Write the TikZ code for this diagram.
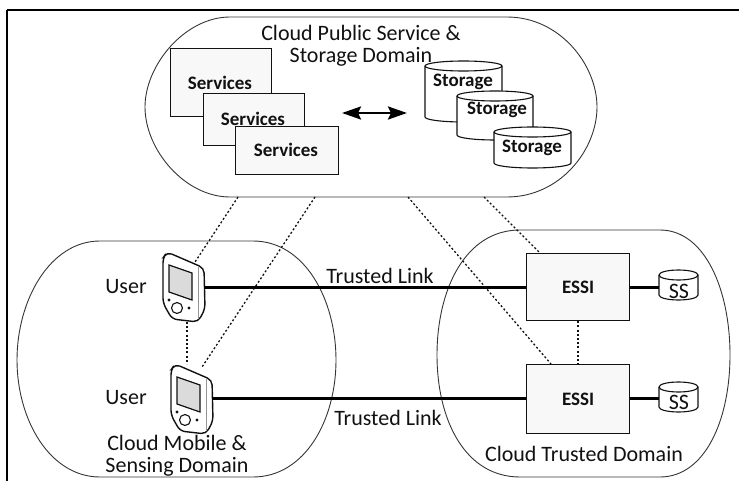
\documentclass[tikz,border=0pt]{standalone}
\usepackage{fontspec}
\setmainfont{Carlito}
\usetikzlibrary{arrows.meta}
\definecolor{ink}{HTML}{111111}
\definecolor{boxfill}{HTML}{F8F8F8}
\tikzset{
  x=1pt,y=-1pt,
  domainline/.style={draw=ink!85,line width=0.9pt},
  lab/.style={text=ink,font=\fontsize{22}{24}\selectfont,inner sep=0pt,anchor=center},
  boldlab/.style={lab,font=\fontsize{19}{22}\selectfont\bfseries},
  svc/.style={draw=ink,line width=1.2pt,fill=boxfill,rectangle,anchor=north west,inner sep=0pt},
  link/.style={draw=black,line width=3pt},
  dots/.style={draw=ink,line width=1.3pt,dash pattern=on 2pt off 2.2pt},
  phonepic/.pic={
    \draw[ink,line width=1.4pt,fill=white,rounded corners=5pt] (0,5) -- (4,-1) -- (41,15) -- (42,56) -- (35,69) -- (9,66) -- (0,50) -- cycle;
    \draw[ink!45,line width=0.9pt] (35,14) -- (35,66);
    \draw[ink,line width=1.2pt,fill=black!14] (6,12) -- (29,20) -- (29,47) -- (6,39) -- cycle;
    \draw[ink,line width=1.1pt] (14,55) circle (5.5);
    \fill[ink] (6,47) circle (1.7) (26,55) circle (1.7);
  },
  pics/cyl/.style n args={2}{code={
    \draw[ink,line width=1.1pt,fill=white] (0,5) .. controls (0,2.2) and ({#1*0.22},0) .. ({#1*0.5},0) .. controls ({#1*0.78},0) and (#1,2.2) .. (#1,5) -- (#1,#2) .. controls (#1,{#2+2.8}) and ({#1*0.78},{#2+5}) .. ({#1*0.5},{#2+5}) .. controls ({#1*0.22},{#2+5}) and (0,{#2+2.8}) .. (0,#2) -- cycle;
    \draw[ink,line width=1.1pt] (0,5) .. controls (0,7.8) and ({#1*0.22},10) .. ({#1*0.5},10) .. controls ({#1*0.78},10) and (#1,7.8) .. (#1,5);
  }},
}
\begin{document}
\begin{tikzpicture}
\useasboundingbox (0,0) rectangle (739,481);
% frame
\draw[black,line width=1.6pt] (7,10) -- (739,10);
\draw[black,line width=1.6pt] (7,10) -- (7,481);
% domains
\path[domainline] (230,17) -- (507,17) .. controls (560,17) and (597,65) .. (597,107) .. controls (597,150) and (560,197) .. (507,197) -- (230,197) .. controls (185,197) and (145,150) .. (145,107) .. controls (145,65) and (185,17) .. (230,17) -- cycle;
\path[domainline] (100,241) -- (253,241) .. controls (305,241) and (336,300) .. (336,360) .. controls (336,420) and (305,477) .. (253,477) -- (100,477) .. controls (50,477) and (17,420) .. (17,360) .. controls (17,300) and (50,241) .. (100,241) -- cycle;
\path[domainline] (520,230) -- (660,230) .. controls (705,230) and (730,290) .. (730,355) .. controls (730,420) and (705,477) .. (660,477) -- (520,477) .. controls (465,477) and (437,420) .. (437,355) .. controls (437,290) and (465,230) .. (520,230) -- cycle;
\coordinate (pubA) at (238,197);
\coordinate (pubB) at (315,197);
\coordinate (pubC) at (408,197);
\coordinate (pubD) at (484,197);
% services
\node[svc,minimum width=101.5pt,minimum height=68pt] (s1) at (169.5,48) {};
\node[boldlab] (t1) at (220,83) {Services};
\node[svc,minimum width=101pt,minimum height=52pt] (s2) at (203,93) {};
\node[boldlab] (t2) at (253,119) {Services};
\node[svc,minimum width=103pt,minimum height=48pt] (s3) at (235,126) {};
\node[boldlab] (t3) at (286,150) {Services};
% storage
\pic at (425,61) {cyl={77}{56}};
\node[boldlab] (st1) at (463,82) {Storage};
\pic at (457,91) {cyl={76}{44}};
\node[boldlab] (st2) at (497,110) {Storage};
\pic at (494,127) {cyl={77}{36}};
\node[boldlab] (st3) at (532,148) {Storage};
\coordinate (arL) at (342,113);
\coordinate (arR) at (407,113);
\draw[black,line width=2.6pt,{Stealth[length=19pt,width=13pt,inset=3pt]}-{Stealth[length=19pt,width=13pt,inset=3pt]}] (arL) -- (arR);
% title
\node[lab] (pt1) at (361,33) {Cloud Public Service \&};
\node[lab] (pt2) at (361,57) {Storage Domain};
% essi
\node[svc,minimum width=103pt,minimum height=67pt] (e1) at (526,253) {};
\node[svc,minimum width=103pt,minimum height=69pt] (e2) at (526,364) {};
\node[boldlab] at (e1.center) {ESSI};
\node[boldlab] at (e2.center) {ESSI};
% ss
\pic at (659,270) {cyl={39}{25}};
\pic at (659,382) {cyl={39}{25}};
\coordinate (ss1) at (659,287);
\coordinate (ss2) at (659,398);
\node[lab] at (679,291) {SS};
\node[lab] at (679,402) {SS};
% phones
\pic at (163,253) {phonepic};
\pic at (171,365) {phonepic};
\coordinate (ph1R) at (204,287);
\coordinate (ph2R) at (212,398);
\coordinate (ph1T) at (195,262);
\coordinate (ph1B) at (187,322);
\coordinate (ph2T) at (187,364);
\coordinate (ph2U) at (202,367);
% links
\draw[link] (ph1R) -- (e1.west |- ph1R);
\draw[link] (ph2R) -- (e2.west |- ph2R);
\draw[link] (e1.east |- ss1) -- (ss1);
\draw[link] (e2.east |- ss2) -- (ss2);
% dotted
\draw[dots] (pubA) -- (ph1T);
\draw[dots] (pubB) -- (ph2U);
\draw[dots] (ph1B) -- (ph2T);
\coordinate (e2t) at (551,364);
\coordinate (e1t) at (540,253);
\draw[dots] (pubC) -- (e2t);
\draw[dots] (pubD) -- (e1t);
\draw[dots] (e1.south) -- (e2.north);
% labels
\node[lab] at (126,287) {User};
\node[lab] at (126,398) {User};
\node[lab] at (380,276) {Trusted Link};
\node[lab] at (388,418) {Trusted Link};
\node[lab] at (177,443) {Cloud Mobile \&};
\node[lab] at (177,467) {Sensing Domain};
\node[lab] at (584,454) {Cloud Trusted Domain};
\end{tikzpicture}
\end{document}
